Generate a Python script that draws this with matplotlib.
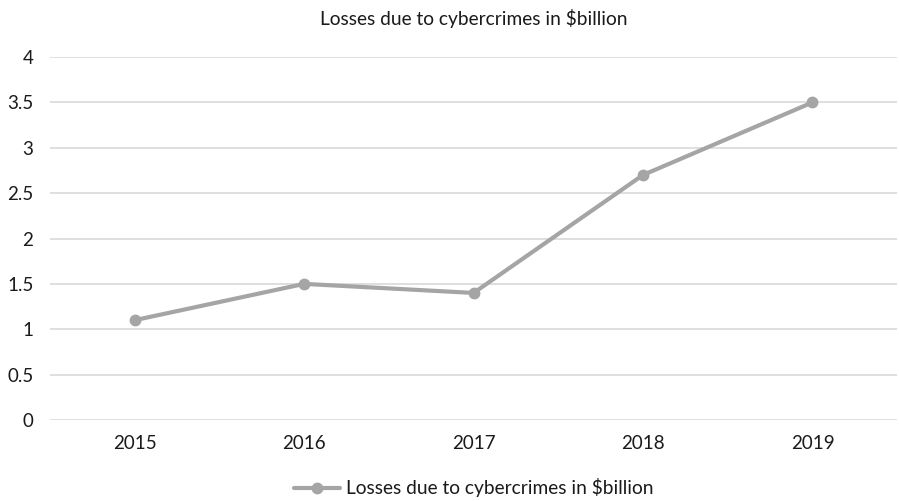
import matplotlib.pyplot as plt
from matplotlib.ticker import MultipleLocator

years = ["2015", "2016", "2017", "2018", "2019"]
losses = [1.1, 1.5, 1.4, 2.7, 3.5]
series_name = "Losses due to cybercrimes in $billion"

plt.rcParams['font.family'] = ['Lato', 'DejaVu Sans']
text_color = "#1a1a1a"
line_color = "#a5a5a5"
grid_color = "#d9d9d9"

fig = plt.figure(figsize=(8.99, 5.01), dpi=100)
ax = fig.add_axes([0.0556, 0.1617, 0.9424, 0.7245])

x = range(len(years))
ax.plot(x, losses, color=line_color, linewidth=3.0, marker="o", markersize=7.5,
        markerfacecolor=line_color, markeredgecolor=line_color,
        solid_capstyle="round", label=series_name, zorder=3)

ax.set_xlim(-0.5, len(years) - 0.5)
ax.set_ylim(0, 4)
ax.yaxis.set_major_locator(MultipleLocator(0.5))
ax.yaxis.set_major_formatter(lambda v, pos: f"{v:g}")
ax.set_xticks(list(x))
ax.set_xticklabels(years)

ax.grid(axis="y", color=grid_color, linewidth=1.2)
ax.set_axisbelow(True)
for side in ["top", "right", "left", "bottom"]:
    ax.spines[side].set_visible(False)
ax.tick_params(axis="both", length=0, labelsize=13.5, colors=text_color)
ax.tick_params(axis="y", pad=12)
ax.tick_params(axis="x", pad=11)

# title and legend centred over the plot area
cx = ax.get_position().x0 + ax.get_position().width / 2
fig.text(cx, 0.964, series_name, ha="center", va="center",
         fontsize=13.8, color=text_color)

fig.legend(loc="center", bbox_to_anchor=(cx, 0.026), frameon=False,
           fontsize=13.8, labelcolor=text_color, handlelength=2.4,
           handletextpad=0.3)

fig.savefig("out.png", dpi=100)
